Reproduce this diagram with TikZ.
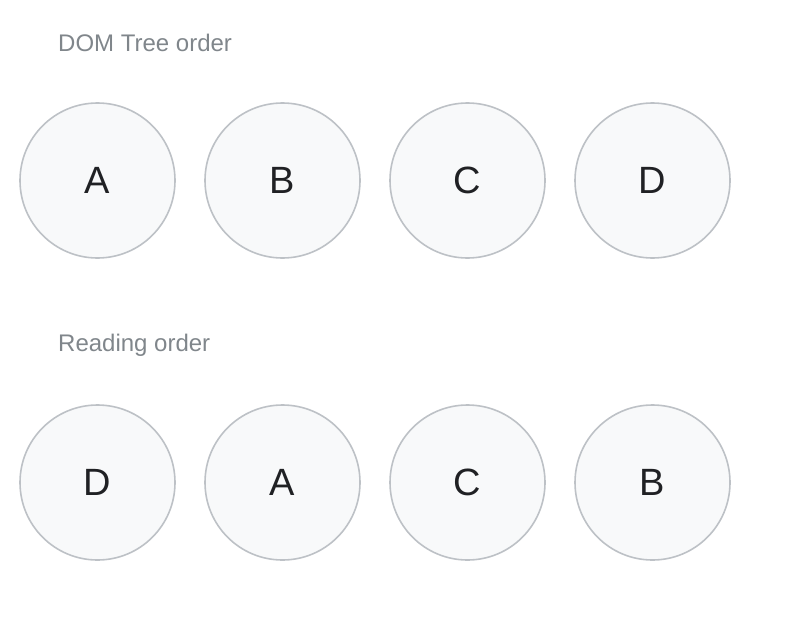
\documentclass[tikz,border=0pt]{standalone}
\usepackage{fontspec}
\setmainfont{Liberation Sans}
\definecolor{cfill}{HTML}{F8F9FA}
\definecolor{cline}{HTML}{BDC1C6}
\definecolor{ctitle}{HTML}{80868B}
\definecolor{cletter}{HTML}{202124}

\begin{document}
\begin{tikzpicture}[
    x=1pt, y=-1pt,
    every node/.style={},
    item/.style={circle, draw=cline, fill=cfill, line width=1.6pt,
      minimum size=155pt, inner sep=0pt, text=cletter,
      font=\fontsize{38}{40}\selectfont},
    heading/.style={anchor=west, text=ctitle, inner sep=0pt,
      font=\fontsize{24}{28}\selectfont}]
      \useasboundingbox (0,0) rectangle (786,634);

      % DOM tree order
      \node[heading] (dom) at (58,43) {DOM Tree order};

      \node[item] (dA) at (97.5,180.5) {A};
      \node[item] (dB) at (282.5,180.5) {B};
      \node[item] (dC) at (467.5,180.5) {C};
      \node[item] (dD) at (652.5,180.5) {D};

      % reading order
      \node[heading] (read) at (58,345) {Reading order};

      \node[item] (rD) at (97.5,482.5) {D};
      \node[item] (rA) at (282.5,482.5) {A};
      \node[item] (rC) at (467.5,482.5) {C};
      \node[item] (rB) at (652.5,482.5) {B};

    \end{tikzpicture}
\end{document}
